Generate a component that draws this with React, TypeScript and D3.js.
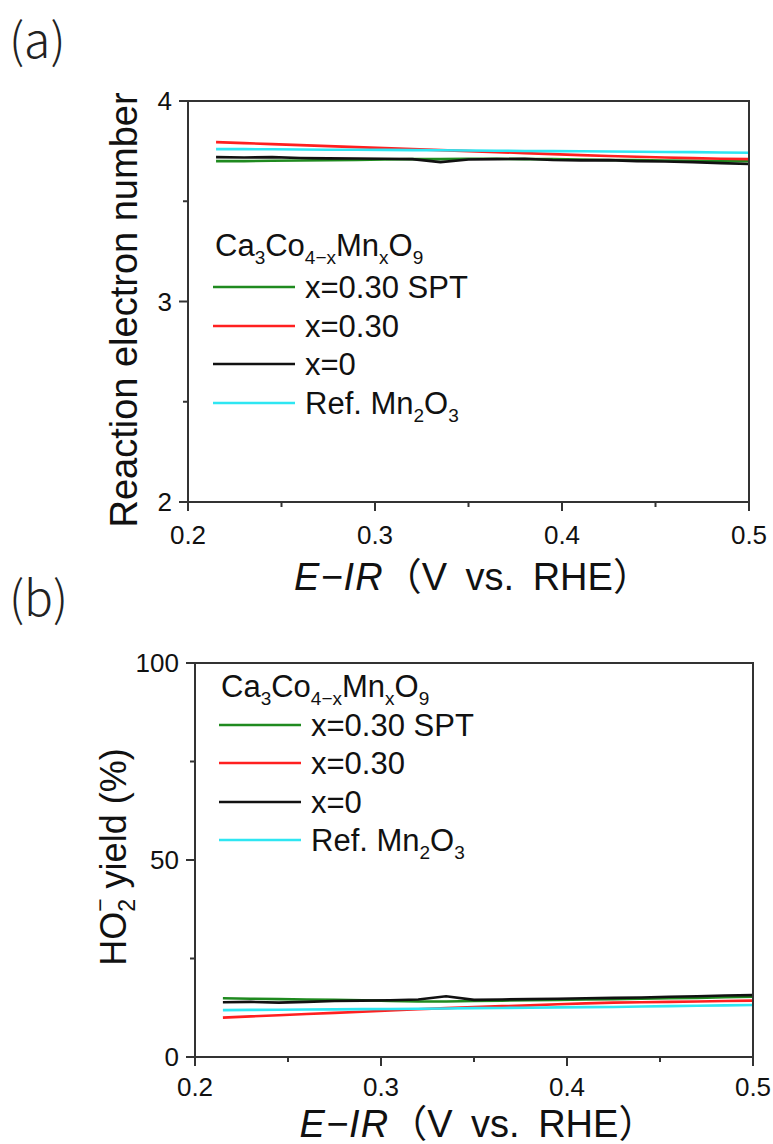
import React from 'react';
import * as d3 from 'd3';

// potential (V vs. RHE), shared by all curves
const potential = [0.215, 0.23, 0.245, 0.26, 0.275, 0.29, 0.305, 0.32, 0.335, 0.35, 0.365, 0.38, 0.395, 0.41, 0.425, 0.44, 0.455, 0.47, 0.485, 0.5];

// (a) reaction electron number
const nSPT = [3.70, 3.70, 3.702, 3.703, 3.705, 3.706, 3.708, 3.71, 3.71, 3.712, 3.712, 3.71, 3.71, 3.708, 3.706, 3.705, 3.703, 3.702, 3.70, 3.70];
const nX030 = [3.795, 3.79, 3.785, 3.78, 3.775, 3.77, 3.765, 3.76, 3.755, 3.75, 3.745, 3.74, 3.735, 3.73, 3.726, 3.722, 3.718, 3.715, 3.712, 3.71];
const nX0 = [3.72, 3.718, 3.72, 3.716, 3.714, 3.713, 3.712, 3.71, 3.695, 3.708, 3.71, 3.712, 3.706, 3.704, 3.705, 3.70, 3.698, 3.695, 3.69, 3.686];
const nMn2O3 = [3.76, 3.76, 3.759, 3.758, 3.757, 3.757, 3.756, 3.755, 3.754, 3.753, 3.752, 3.751, 3.75, 3.749, 3.748, 3.747, 3.746, 3.745, 3.743, 3.742];

// (b) HO2- yield (%)
const ySPT = [14.9, 14.8, 14.7, 14.6, 14.5, 14.4, 14.2, 14.1, 14.1, 14.2, 14.3, 14.4, 14.5, 14.6, 14.7, 14.8, 14.9, 15.0, 15.2, 15.3];
const yX030 = [10.0, 10.3, 10.6, 10.9, 11.2, 11.5, 11.8, 12.1, 12.4, 12.7, 12.9, 13.1, 13.4, 13.6, 13.8, 13.9, 14.0, 14.1, 14.2, 14.3];
const yX0 = [13.9, 14.0, 13.8, 14.0, 14.2, 14.3, 14.4, 14.6, 15.4, 14.5, 14.6, 14.7, 14.8, 14.9, 15.0, 15.1, 15.3, 15.4, 15.6, 15.7];
const yMn2O3 = [11.9, 11.95, 12.0, 12.05, 12.1, 12.15, 12.2, 12.25, 12.3, 12.4, 12.45, 12.5, 12.6, 12.65, 12.7, 12.8, 12.9, 13.0, 13.1, 13.2];

const xTicks = [0.2, 0.3, 0.4, 0.5];
const xMinor = [0.25, 0.35, 0.45];
const aTicks = [2, 3, 4];
const aMinor = [2.5, 3.5];
const bTicks = [0, 50, 100];
const bMinor = [25, 75];

const colors = ['#1f8a1f', '#ff2020', '#111111', '#2ee6f2'];
const labels = ['x=0.30 SPT', 'x=0.30', 'x=0'];

const FONT = '"Liberation Sans", Arial, sans-serif';
const CJK = '"Noto Sans CJK JP", sans-serif';

function Panel(props) {
  const { left, right, top, bottom, yDomain, yTicks, yMinor, series, yTitle, yTitleX, yTitleY, yTitleSize, legend, tag, tagY, tickGap, titleGap } = props;
  const x = d3.scaleLinear().domain([0.2, 0.5]).range([left, right]);
  const y = d3.scaleLinear().domain(yDomain).range([bottom, top]);
  const line = d3.line().x(d => x(d[0])).y(d => y(d[1]));
  const fmtY = d3.format('d');

  return (
    <g>
      <text x={9} y={tagY} fontFamily={CJK} fontSize={48} fontWeight={300} fill="#222">
        {tag}
      </text>
      {/* curves */}
      {series.map((s, i) => (
        <path key={i} d={line(potential.map((p, j) => [p, s[j]]))} fill="none" stroke={colors[i]} strokeWidth={2.6} />
      ))}
      {/* frame */}
      <rect x={left} y={top} width={right - left} height={bottom - top} fill="none" stroke="#333" strokeWidth={2} />
      {/* x axis */}
      {xTicks.map(t => (
        <g key={t}>
          <line x1={x(t)} x2={x(t)} y1={bottom} y2={bottom + 9} stroke="#333" strokeWidth={2} />
          <text x={x(t)} y={bottom + tickGap} textAnchor="middle" fontFamily={FONT} fontSize={26} fill="#111">
            {t.toFixed(1)}
          </text>
        </g>
      ))}
      {xMinor.map(t => (
        <line key={t} x1={x(t)} x2={x(t)} y1={bottom} y2={bottom + 5} stroke="#333" strokeWidth={2} />
      ))}
      <text x={(left + right) / 2 + 4} y={bottom + titleGap} textAnchor="middle" fontFamily={FONT} fontSize={38} fill="#111">
        <tspan fontStyle="italic" letterSpacing={1}>E−IR</tspan>
        <tspan fontFamily={CJK}>（</tspan>
        <tspan wordSpacing={8}>V vs. RHE</tspan>
        <tspan fontFamily={CJK}>）</tspan>
      </text>
      {/* y axis */}
      {yTicks.map(t => (
        <g key={t}>
          <line x1={left - 9} x2={left} y1={y(t)} y2={y(t)} stroke="#333" strokeWidth={2} />
          <text x={left - 16} y={y(t) + 9} textAnchor="end" fontFamily={FONT} fontSize={26} fill="#111">
            {fmtY(t)}
          </text>
        </g>
      ))}
      {yMinor.map(t => (
        <line key={t} x1={left - 5} x2={left} y1={y(t)} y2={y(t)} stroke="#333" strokeWidth={2} />
      ))}
      <text transform={`translate(${yTitleX},${yTitleY}) rotate(-90)`} textAnchor="middle" fontFamily={FONT} fontSize={yTitleSize} fill="#111">
        {yTitle}
      </text>
      {/* legend */}
      <text x={legend.x} y={legend.titleY} fontFamily={FONT} fontSize={31} fill="#111">
        Ca<tspan fontSize={19} dy={8}>3</tspan>
        <tspan dy={-8}>Co</tspan>
        <tspan fontSize={19} dy={8}>4−x</tspan>
        <tspan dy={-8}>Mn</tspan>
        <tspan fontSize={19} dy={8}>x</tspan>
        <tspan dy={-8}>O</tspan>
        <tspan fontSize={19} dy={8}>9</tspan>
      </text>
      {legend.rows.map((ry, i) => (
        <g key={i}>
          <line x1={legend.x - 2} x2={legend.x + 80} y1={ry} y2={ry} stroke={colors[i]} strokeWidth={2.6} />
          <text x={legend.x + 90} y={ry + 11} fontFamily={FONT} fontSize={31} fill="#111">
            {i < 3 ? labels[i] : (
              <>
                Ref. Mn<tspan fontSize={19} dy={8}>2</tspan>
                <tspan dy={-8}>O</tspan>
                <tspan fontSize={19} dy={8}>3</tspan>
              </>
            )}
          </text>
        </g>
      ))}
    </g>
  );
}

export default function App() {
  return (
    <svg width={773} height={1144} style={{ position: 'absolute', left: 0, top: 0, background: '#fff' }}>
      <Panel
        tag="(a)"
        tagY={58}
        left={188}
        right={749}
        top={101}
        bottom={502}
        tickGap={42}
        titleGap={88}
        yDomain={[2, 4]}
        yTicks={aTicks}
        yMinor={aMinor}
        series={[nSPT, nX030, nX0, nMn2O3]}
        yTitle="Reaction electron number"
        yTitleSize={38}
        yTitleX={137}
        yTitleY={310}
        legend={{ x: 215, titleY: 256, rows: [287, 326, 364, 403] }}
      />
      <Panel
        tag="(b)"
        tagY={616}
        left={195}
        right={753}
        top={663}
        bottom={1057}
        tickGap={39}
        titleGap={80}
        yDomain={[0, 100]}
        yTicks={bTicks}
        yMinor={bMinor}
        series={[ySPT, yX030, yX0, yMn2O3]}
        yTitle={
          <>
            HO<tspan fontSize={23} dy={9}>2</tspan>
            <tspan fontSize={23} dx={-13} dy={-27}>−</tspan>
            <tspan dy={18}> yield (%)</tspan>
          </>
        }
        yTitleSize={36}
        yTitleX={126}
        yTitleY={857}
        legend={{ x: 221, titleY: 697, rows: [725, 763, 802, 840] }}
      />
    </svg>
  );
}
